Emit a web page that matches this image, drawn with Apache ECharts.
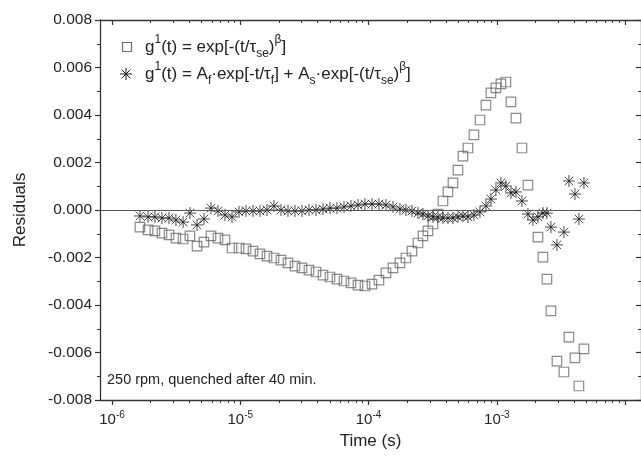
<!DOCTYPE html>
<html>
<head>
<meta charset="utf-8">
<script src="https://cdn.jsdelivr.net/npm/echarts@6/dist/echarts.min.js"></script>
<style>
  html, body { margin: 0; padding: 0; background: #fff; }
  #chart { width: 641px; height: 463px; }
</style>
</head>
<body>
<div id="chart"></div>
<script>
// Correlation lag times (s)
const times = [
  1.65e-6, 1.91e-6, 2.16e-6, 2.45e-6, 2.78e-6, 3.15e-6, 3.58e-6, 4.05e-6, 4.60e-6, 5.21e-6,
  5.91e-6, 6.70e-6, 7.60e-6, 8.62e-6, 9.77e-6, 1.108e-5, 1.256e-5, 1.424e-5, 1.615e-5, 1.831e-5,
  2.076e-5, 2.354e-5, 2.669e-5, 3.027e-5, 3.431e-5, 3.890e-5, 4.412e-5, 5.002e-5, 5.672e-5, 6.431e-5,
  7.292e-5, 8.269e-5, 9.374e-5, 1.063e-4, 1.205e-4, 1.367e-4, 1.550e-4, 1.757e-4, 1.956e-4, 2.179e-4,
  2.427e-4, 2.655e-4, 2.904e-4, 3.177e-4, 3.475e-4, 3.801e-4, 4.157e-4, 4.548e-4, 4.976e-4, 5.443e-4,
  5.954e-4, 6.630e-4, 7.384e-4, 8.224e-4, 8.995e-4, 9.840e-4, 1.076e-3, 1.177e-3, 1.288e-3, 1.409e-3,
  1.569e-3, 1.748e-3, 1.912e-3, 2.092e-3, 2.287e-3, 2.458e-3, 2.641e-3, 2.941e-3, 3.334e-3, 3.648e-3,
  4.063e-3, 4.364e-3, 4.775e-3
];

// Residuals of the stretched-exponential fit
const stretchedResiduals = [
  -0.00072, -0.00084, -0.00088, -0.00097, -0.00105, -0.00118, -0.00122, -0.00109, -0.00152, -0.00135,
  -0.00109, -0.00118, -0.00126, -0.00160, -0.00160, -0.00164, -0.00173, -0.00185, -0.00194, -0.00202,
  -0.00211, -0.00223, -0.00236, -0.00244, -0.00253, -0.00261, -0.00274, -0.00282, -0.00291, -0.00299,
  -0.00307, -0.00316, -0.00320, -0.00312, -0.00295, -0.00265, -0.00244, -0.00223, -0.00202, -0.00173,
  -0.00139, -0.00109, -0.00088, -0.00059, -0.00017, 0.00038, 0.00076, 0.00114, 0.00168, 0.00227,
  0.00261, 0.00316, 0.00379, 0.00442, 0.00493, 0.00514, 0.00531, 0.00539, 0.00455, 0.00387,
  0.00261, 0.00105, null, -0.00114, -0.00198, -0.00291, -0.00425, -0.00636, -0.00682, -0.00535,
  -0.00623, -0.00741, -0.00585
];

// Residuals of the fast-exponential + stretched-exponential fit
const biexpResiduals = [
  -0.00025, -0.00029, -0.00029, -0.00034, -0.00034, -0.00042, -0.00051, -0.00013, -0.00063, -0.00038,
  0.00008, -0.00004, -0.00021, -0.00029, -0.00008, -0.00004, -0.00004, -0.00004, 0.00000, 0.00017,
  0.00000, -0.00004, -0.00004, -0.00004, 0.00000, 0.00000, 0.00004, 0.00008, 0.00008, 0.00013,
  0.00017, 0.00021, 0.00025, 0.00025, 0.00025, 0.00021, 0.00013, 0.00004, 0.00000, -0.00004,
  -0.00013, -0.00017, -0.00025, -0.00029, -0.00029, -0.00034, -0.00034, -0.00034, -0.00029, -0.00025,
  -0.00029, -0.00021, -0.00008, 0.00017, 0.00046, 0.00084, 0.00114, 0.00101, 0.00072, 0.00076,
  0.00038, -0.00017, -0.00042, -0.00029, -0.00013, -0.00013, -0.00072, -0.00147, -0.00093, 0.00122,
  0.00067, -0.00038, 0.00114
];

// Axis ticks and labels
const decadeTicks = [1e-6, 1e-5, 1e-4, 1e-3, 1e-2];
const decadeLabels = [1e-6, 1e-5, 1e-4, 1e-3];
const minorMultipliers = [2, 3, 4, 5, 6, 7, 8, 9];
const xMin = 8.06e-7;
const xMax = 1.33e-2;
const yMin = -0.008, yMax = 0.008, yStep = 0.002;

const legendLabels = [
  'g{sup|1}(t) = exp[-(t/\u03c4{sub|se}){sup|\u03b2}]',
  'g{sup|1}(t) = A{sub|f}\u00b7exp[-t/\u03c4{sub|f}] + A{sub|s}\u00b7exp[-(t/\u03c4{sub|se}){sup|\u03b2}]'
];
const noteText = '250 rpm, quenched after 40 min.';

const minorTicks = [];
decadeTicks.forEach(d => minorMultipliers.forEach(m => minorTicks.push(m * d)));

const FONT = '"Liberation Sans", Arial, sans-serif';
const INK = '#222';
const AXIS = '#333';
const SQUARE = '#6a6a6a';
const STAR = '#1a1a1a';
const asteriskPath = 'path://M0,-6L0,6M-6,0L6,0M-4.3,-4.3L4.3,4.3M-4.3,4.3L4.3,-4.3';

const pairs = vals => times.map((t, i) => [t, vals[i]]).filter(p => p[1] !== null);

function logAxis(position, grid, opts) {
  return Object.assign({
    type: 'log', logBase: 10, gridIndex: grid, position: position,
    min: xMin, max: xMax,
    splitLine: { show: false },
    axisLine: { show: true, onZero: false, lineStyle: { color: AXIS, width: 1.3 } },
    axisLabel: { show: false },
    axisTick: { show: false }
  }, opts);
}

function valueAxis(position, grid, opts) {
  return Object.assign({
    type: 'value', gridIndex: grid, position: position,
    min: yMin, max: yMax, interval: yStep,
    splitLine: { show: false },
    axisLine: { show: true, onZero: false, lineStyle: { color: AXIS, width: 1.3 } },
    axisLabel: { show: false },
    axisTick: { show: false }
  }, opts);
}

// Legend drawn as a small group: marker + formula per row
function asteriskLines(cx, cy, r) {
  const d = r * 0.72;
  const segs = [[0, -r, 0, r], [-r, 0, r, 0], [-d, -d, d, d], [-d, d, d, -d]];
  return segs.map(s => ({
    type: 'line', silent: true,
    shape: { x1: cx + s[0], y1: cy + s[1], x2: cx + s[2], y2: cy + s[3] },
    style: { stroke: STAR, lineWidth: 1 }
  }));
}

const legendRich = {
  sup: { fontSize: 12, lineHeight: 12, verticalAlign: 'top', fill: INK, fontFamily: FONT },
  sub: { fontSize: 12, lineHeight: 12, verticalAlign: 'bottom', fill: INK, fontFamily: FONT }
};

function legendText(text, y) {
  return {
    type: 'text', silent: true, x: 145, y: y,
    style: {
      text: text, fontSize: 17, lineHeight: 26, fill: INK, fontFamily: FONT,
      verticalAlign: 'middle', align: 'left', rich: legendRich
    }
  };
}

const chart = echarts.init(document.getElementById('chart'), null, { renderer: 'canvas' });

const gridBox = { left: 100, top: 20, width: 541, height: 380 };

chart.setOption({
  animation: false,
  backgroundColor: '#fff',
  textStyle: { fontFamily: FONT },
  grid: [
    Object.assign({ containLabel: false }, gridBox),
    Object.assign({ containLabel: false }, gridBox)
  ],
  xAxis: [
    logAxis('bottom', 0, {
      name: 'Time (s)', nameLocation: 'middle', nameGap: 32,
      nameTextStyle: { fontSize: 17, color: INK, fontFamily: FONT },
      axisTick: { show: true, inside: false, length: 5, customValues: decadeTicks, lineStyle: { color: AXIS, width: 1.2 } },
      axisLabel: {
        show: true, margin: 10, customValues: decadeLabels,
        formatter: v => '{b|10}{s|' + Math.round(Math.log10(v)) + '}',
        rich: {
          b: { fontSize: 15, lineHeight: 20, fontFamily: FONT, color: INK },
          s: { fontSize: 10, lineHeight: 10, verticalAlign: 'top', fontFamily: FONT, color: INK }
        }
      }
    }),
    logAxis('top', 0, {
      axisTick: { show: true, inside: true, length: 5, customValues: decadeTicks, lineStyle: { color: AXIS, width: 1.2 } }
    }),
    logAxis('bottom', 1, {
      axisLine: { show: false, onZero: false },
      axisTick: { show: true, inside: false, length: 3, customValues: minorTicks, lineStyle: { color: AXIS, width: 1 } }
    }),
    logAxis('top', 1, {
      axisLine: { show: false, onZero: false },
      axisTick: { show: true, inside: true, length: 3, customValues: minorTicks, lineStyle: { color: AXIS, width: 1 } }
    })
  ],
  yAxis: [
    valueAxis('left', 0, {
      name: 'Residuals', nameLocation: 'middle', nameGap: 71,
      nameTextStyle: { fontSize: 17, color: INK, fontFamily: FONT },
      axisTick: { show: true, inside: false, length: 5, lineStyle: { color: AXIS, width: 1.2 } },
      minorTick: { show: true, splitNumber: 2, length: 3, lineStyle: { color: AXIS, width: 1 } },
      axisLabel: {
        show: true, margin: 8, fontSize: 15.5, color: INK, fontFamily: FONT,
        formatter: v => v.toFixed(3)
      }
    }),
    valueAxis('right', 0, {
      axisTick: { show: true, inside: true, length: 5, lineStyle: { color: AXIS, width: 1.2 } },
      minorTick: { show: true, splitNumber: 2, length: 3, lineStyle: { color: AXIS, width: 1 } }
    }),
    valueAxis('left', 1, { axisLine: { show: false, onZero: false } })
  ],
  graphic: [
    {
      type: 'rect', silent: true,
      shape: { x: 122.5, y: 42.5, width: 9, height: 9 },
      style: { fill: 'none', stroke: SQUARE, lineWidth: 1.2 }
    },
    legendText(legendLabels[0], 47),
    ...asteriskLines(126, 74, 6),
    legendText(legendLabels[1], 74),
    {
      type: 'text', left: 107, top: 372, silent: true,
      style: { text: noteText, fontSize: 14.5, fill: INK, fontFamily: FONT }
    }
  ],
  series: [
    {
      name: 'stretched', type: 'scatter', xAxisIndex: 0, yAxisIndex: 0,
      symbol: 'rect', symbolSize: 9.5,
      itemStyle: { color: 'rgba(0,0,0,0)', borderColor: SQUARE, borderWidth: 1.2 },
      data: pairs(stretchedResiduals),
      markLine: {
        silent: true, symbol: ['none', 'none'], animation: false,
        label: { show: false },
        lineStyle: { color: '#555', width: 1, type: 'solid' },
        data: [{ yAxis: 0 }]
      },
      z: 2
    },
    {
      name: 'biexp', type: 'scatter', xAxisIndex: 0, yAxisIndex: 0,
      symbol: asteriskPath, symbolSize: 12, symbolKeepAspect: true,
      itemStyle: { color: 'rgba(0,0,0,0)', borderColor: STAR, borderWidth: 1 },
      data: pairs(biexpResiduals),
      z: 3
    }
  ]
});
</script>
</body>
</html>
